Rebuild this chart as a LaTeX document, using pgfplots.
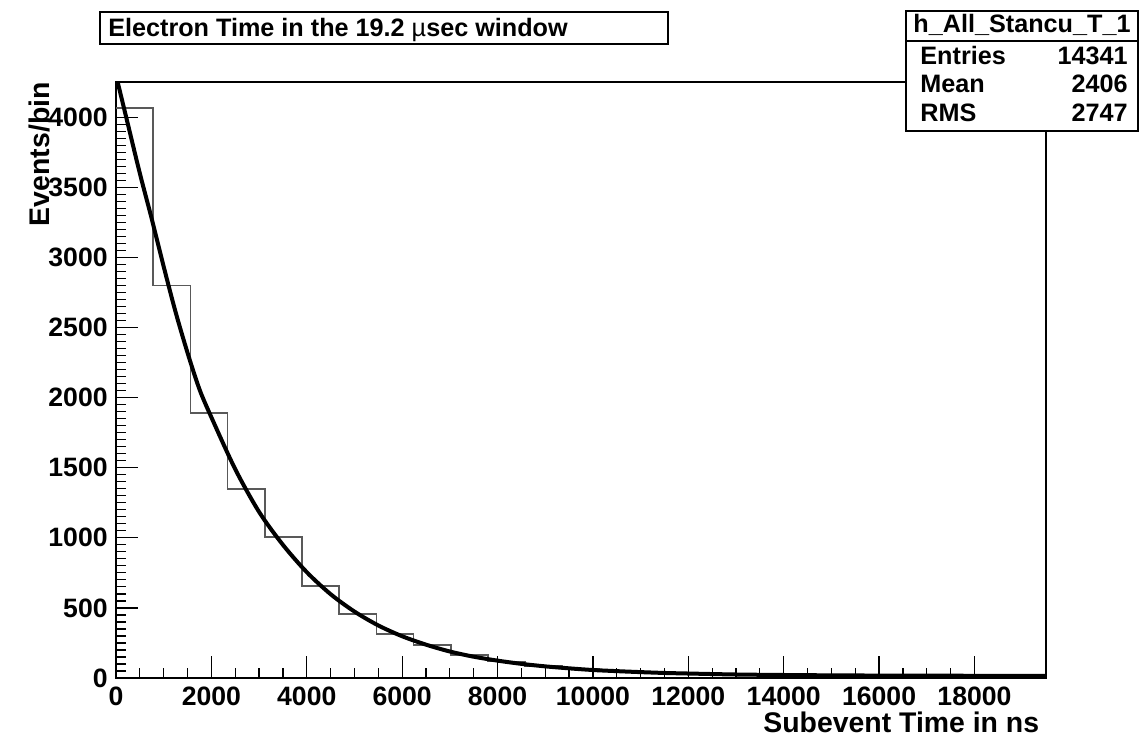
\documentclass[border=0pt]{standalone}
\usepackage{fontspec}
\setmainfont{Liberation Sans}
\usepackage{pgfplots}
\pgfplotsset{compat=1.18}
\begin{document}
\begin{tikzpicture}
\useasboundingbox (0,0) rectangle (572pt,370pt);
\begin{axis}[
  scale only axis,
  width=465pt, height=298pt,
  at={(58pt,31pt)}, anchor=south west,
  xmin=0, xmax=19500, ymin=0, ymax=4252,
  xtick={0,2000,...,18000},
  ytick={0,500,...,4000},
  minor x tick num=3,
  minor y tick num=9,
  tick pos=left,
  tick align=inside,
  axis line style={black, line width=0.6pt},
  every tick/.style={black, line width=0.6pt},
  major tick length=11pt,
  minor tick length=5pt,
  scaled ticks=false,
  /pgf/number format/assume math mode=true,
  /pgf/number format/1000 sep={},
  tick label style={font=\fontsize{13.3}{15}\selectfont\bfseries, inner sep=0pt},
  xticklabel style={yshift=-4.5pt},
  yticklabel style={xshift=-4pt},
  xlabel={Subevent Time in ns},
  ylabel={Events/bin},
  label style={font=\fontsize{14.2}{16}\selectfont\bfseries, inner sep=0pt},
  xlabel style={at={(axis description cs:0.993,-0.056)}, anchor=north east},
  ylabel style={at={(axis description cs:-0.082,1.0)}, anchor=east, rotate=0},
  clip=true,
]
\addplot[const plot, draw=black!65, line width=0.8pt] coordinates {
(0,4066) (780,2800) (1560,1889) (2340,1348) (3120,1006) (3900,657)
(4680,455) (5460,312) (6240,235) (7020,165) (7800,118) (8580,86)
(9360,66) (10140,50) (10920,40) (11700,33) (12480,27) (13260,24)
(14040,21) (14820,19) (15600,18) (16380,17) (17160,16) (17940,16)
(18720,15) (19500,15)
};
\addplot[black, line width=2pt, smooth] coordinates {
(0,4300) (250,3950) (500,3600) (750,3275) (1000,2935) (1250,2610)
(1500,2320) (1750,2060) (2000,1860) (2500,1490) (3000,1185) (3500,950)
(4000,755) (4500,598) (5000,474) (5500,375) (6000,298) (6500,238)
(7000,189) (7500,152) (8000,124) (8500,101) (9000,83) (9500,69)
(10000,57) (10500,49) (11000,42) (11500,36) (12000,32) (13000,25)
(14000,21.5) (15000,19) (16000,17.5) (17000,16.6) (18000,16) (19500,15.5)
};
\end{axis}
% title box
\draw[black, line width=0.8pt, fill=white] (50pt,348pt) rectangle (334pt,364pt);
\node[font=\fontsize{12.6}{14}\selectfont\bfseries, inner sep=0pt, anchor=base] at (169pt,351.8pt) {Electron Time in the 19.2 {\mdseries µ}sec window};
% stats box
\draw[black, line width=0.8pt, fill=white] (453pt,304.5pt) rectangle (569pt,364.5pt);
\draw[black, line width=0.8pt] (453pt,349.5pt) -- (569pt,349.5pt);
\begin{scope}[font=\fontsize{12.6}{14}\selectfont\bfseries, inner sep=0pt]
\node[anchor=base] at (511pt,353.5pt) {h\_All\_Stancu\_T\_1};
\node[anchor=base west] at (460pt,337.5pt) {Entries};
\node[anchor=base east] at (564pt,337.5pt) {14341};
\node[anchor=base west] at (460pt,323.5pt) {Mean};
\node[anchor=base east] at (564pt,323.5pt) {2406};
\node[anchor=base west] at (460pt,309pt) {RMS};
\node[anchor=base east] at (564pt,309pt) {2747};
\end{scope}
\end{tikzpicture}
\end{document}
